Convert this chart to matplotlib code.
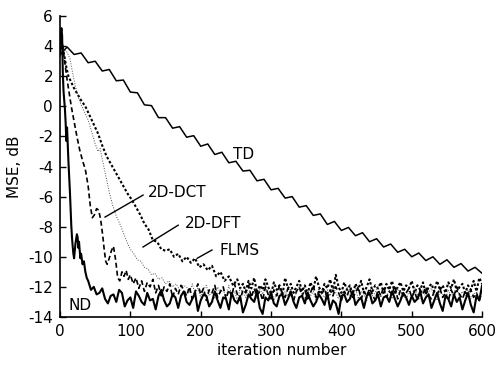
import matplotlib
matplotlib.use('Agg')
import matplotlib.pyplot as plt
import numpy as np

plt.rcParams['axes.unicode_minus'] = False
plt.rcParams['font.family'] = 'DejaVu Sans'

# TD: slow curve with ripples, sampled every 10 iterations
td_x = np.arange(0, 601, 10)
td_y = [3.4, 3.95, 3.45, 3.55, 2.9, 3.0, 2.35, 2.45, 1.7, 1.75,
        0.95, 0.9, 0.1, 0.05, -0.75, -0.75, -1.45, -1.35, -2.05, -1.95,
        -2.65, -2.5, -3.2, -3.05, -3.75, -3.65, -4.3, -4.25, -4.95, -4.85,
        -5.55, -5.45, -6.1, -6.0, -6.7, -6.6, -7.25, -7.15, -7.85, -7.65,
        -8.25, -8.05, -8.6, -8.4, -9.0, -8.8, -9.35, -9.15, -9.7, -9.5,
        -10.0, -9.75, -10.25, -10.0, -10.5, -10.2, -10.7, -10.45, -10.95, -10.7,
        -11.1]

# ND: fastest curve
nd_x_head = [0, 1, 2, 3, 4, 5, 6, 7, 8, 9, 10, 11, 12, 13, 14, 15, 16, 17, 18, 19,
             20, 21, 22, 23, 24, 25, 26, 27, 28, 29, 30, 32, 34, 36, 38]
nd_y_head = [4.0, 4.8, 5.2, 4.7, 2.2, 1.0, 0.4, -0.2, -1.1, -2.3, -1.4, -2.6, -3.7, -4.6,
             -5.6, -6.8, -7.9, -8.7, -9.3, -9.8, -10.1, -9.6, -9.1, -8.8, -8.5, -8.7,
             -9.4, -9.0, -9.6, -10.1, -9.8, -10.5, -10.3, -11.0, -11.4]
nd_x_tail = np.arange(40, 601, 4)
nd_y_tail = [-11.6, -12.2, -12.0, -12.5, -12.4, -12.1, -12.8, -13.1, -12.6, -12.5,
             -13.0, -12.2, -12.4, -13.3, -12.9, -12.7, -13.4, -12.3, -12.6, -13.0,
             -13.2, -12.4, -12.9, -12.8, -13.5, -12.6, -12.2, -12.9, -13.3, -13.1,
             -12.5, -12.7, -13.4, -12.6, -12.3, -13.0, -13.2, -12.8, -12.4, -13.6,
             -12.9, -12.5, -12.6, -13.3, -13.0, -12.3, -12.9, -13.4, -12.7, -12.8,
             -13.5, -12.4, -12.9, -13.1, -12.6, -13.7, -13.2, -12.5, -12.8, -13.0,
             -12.3, -13.4, -13.8, -12.7, -12.9, -12.4, -13.1, -13.3, -12.6, -12.5,
             -13.2, -12.8, -12.3, -13.0, -13.4, -12.7, -12.6, -13.1, -12.4, -12.9,
             -13.3, -13.0, -12.5, -12.8, -13.2, -12.4, -13.5, -12.9, -13.1, -13.8,
             -12.6, -12.5, -13.0, -12.8, -12.3, -13.2, -12.9, -12.7, -13.4, -12.6,
             -12.4, -13.1, -12.9, -12.5, -13.3, -12.7, -12.6, -13.0, -12.3, -12.8,
             -13.3, -12.9, -12.4, -12.7, -13.2, -12.6, -13.0, -12.8, -12.3, -13.1,
             -12.7, -12.5, -13.4, -12.9, -12.4, -13.1, -13.6, -12.6, -12.8, -13.3,
             -12.5, -13.0, -12.7, -13.5, -12.9, -12.4, -13.2, -13.7, -12.6, -12.9,
             -11.9]

# 2D-DCT: dashed
dct_x_head = [0, 2, 4, 6, 8, 10, 13, 16, 20, 24, 28, 32, 36, 40, 43, 46, 49, 52, 55,
              58, 61, 63, 65, 67, 70, 73, 76, 79, 82, 85, 88, 91, 94, 97]
dct_y_head = [3.6, 4.4, 4.0, 3.2, 2.5, 1.8, 0.9, 0.0, -1.0, -2.0, -2.9, -3.6, -4.2,
              -5.3, -6.6, -7.4, -7.2, -6.8, -6.9, -7.6, -8.7, -9.6, -10.3, -10.5,
              -10.1, -9.6, -9.3, -10.2, -11.4, -11.6, -11.0, -11.3, -10.9, -11.5]
dct_x_tail = np.arange(100, 601, 4)
dct_y_tail = [-11.2, -11.8, -11.4, -12.1, -11.6, -12.3, -11.7, -12.0, -11.5, -12.4,
              -11.9, -12.6, -12.0, -12.3, -11.8, -12.7, -12.1, -12.5, -11.9, -12.2,
              -12.6, -12.0, -12.8, -12.3, -11.8, -12.5, -12.1, -12.9, -12.2, -12.4,
              -11.9, -12.7, -12.3, -12.0, -12.8, -12.2, -12.6, -11.8, -12.5, -12.9,
              -12.2, -12.4, -11.9, -12.7, -12.1, -12.6, -12.3, -12.9, -12.0, -12.5,
              -12.8, -12.2, -12.6, -11.9, -12.4, -12.7, -12.1, -12.5, -12.9, -12.3,
              -12.0, -12.6, -12.2, -12.8, -12.4, -11.9, -12.7, -12.3, -12.5, -12.1,
              -12.8, -12.2, -12.6, -12.0, -12.4, -12.9, -12.3, -12.6, -12.1, -12.7,
              -12.4, -12.0, -12.8, -12.3, -12.6, -12.1, -12.5, -12.9, -12.2, -12.6,
              -12.0, -12.7, -12.3, -12.5, -11.9, -12.8, -12.2, -12.6, -12.4, -12.1,
              -12.7, -12.3, -12.9, -12.2, -12.5, -12.0, -12.6, -12.8, -12.3, -12.5,
              -12.1, -12.7, -12.4, -12.9, -12.2, -12.6, -12.0, -12.5, -12.8, -12.3,
              -12.6, -12.2, -12.7, -12.4, -12.9, -12.3]

# 2D-DFT: light dotted
dft_x_head = [0, 3, 6, 10, 14, 18, 22, 26, 30, 35, 40, 45, 50, 54, 57, 60, 65, 70, 75,
              80, 85, 90, 95, 100, 105, 110, 115, 120, 125, 130, 135, 140, 145, 150,
              155, 160, 165, 170, 175]
dft_y_head = [3.3, 3.9, 3.8, 3.6, 3.2, 2.2, 1.3, 0.6, 0.1, -0.4, -0.9, -1.7, -2.5, -3.0,
              -2.8, -3.5, -4.6, -5.7, -6.6, -7.3, -7.8, -8.4, -9.0, -9.5, -9.8, -10.2,
              -10.3, -10.7, -10.8, -11.2, -11.1, -11.5, -11.4, -11.8, -11.6, -12.0,
              -11.8, -12.2, -11.9]
dft_x_tail = np.arange(180, 601, 4)
dft_y_tail = [-12.0, -12.4, -11.8, -12.5, -12.1, -12.7, -12.2, -11.9, -12.6, -12.3,
              -12.8, -12.0, -12.4, -12.2, -12.7, -11.9, -12.5, -12.3, -12.9, -12.1,
              -12.4, -12.7, -12.0, -12.6, -12.3, -12.8, -12.1, -12.5, -11.8, -12.6,
              -12.2, -12.9, -12.4, -12.0, -12.7, -12.3, -12.6, -12.1, -12.8, -12.4,
              -12.0, -12.5, -12.8, -12.2, -12.6, -12.3, -12.9, -12.1, -12.5, -12.7,
              -12.2, -12.6, -11.9, -12.4, -12.8, -12.3, -12.6, -12.0, -12.7, -12.4,
              -12.1, -12.8, -12.3, -12.5, -12.9, -12.2, -12.6, -12.4, -12.0, -12.7,
              -12.3, -12.6, -12.2, -12.8, -12.4, -12.1, -12.7, -12.5, -12.9, -12.3,
              -12.6, -12.0, -12.5, -12.8, -12.2, -12.7, -12.4, -12.1, -12.6, -12.9,
              -12.3, -12.5, -12.8, -12.2, -12.6, -12.4, -12.0, -12.7, -12.3, -12.6,
              -12.2, -12.8, -12.4, -12.6, -12.9, -12.3]

# FLMS: heavy dotted, slowest of the three
flms_x_head = [0, 3, 6, 9, 12, 16, 20, 25, 30, 36, 42, 48, 54, 60, 66, 72, 78, 84, 90,
               96, 102, 108, 114, 120, 126, 132, 138, 144, 150, 156, 162, 168, 174,
               180, 186, 192, 198, 204, 210, 216, 222, 228, 234, 240, 246, 252, 256]
flms_y_head = [3.5, 4.0, 3.4, 2.6, 2.0, 1.6, 1.2, 0.8, 0.4, 0.0, -0.6, -1.2, -1.8, -2.6,
               -3.3, -3.8, -4.3, -4.8, -5.3, -5.8, -6.2, -6.7, -7.2, -7.8, -8.2, -8.9,
               -9.0, -9.5, -9.6, -9.5, -10.0, -9.8, -10.3, -10.0, -10.4, -10.1, -10.7,
               -10.5, -10.9, -10.6, -11.3, -11.0, -11.6, -11.3, -11.9, -11.5, -12.1]
flms_x_tail = np.arange(260, 601, 4)
flms_y_tail = [-11.8, -12.3, -11.6, -12.1, -11.4, -12.4, -11.9, -12.2, -11.5, -12.0,
               -12.5, -11.7, -12.2, -11.9, -12.6, -11.4, -12.1, -11.8, -12.4, -12.0,
               -11.6, -12.3, -11.9, -12.5, -11.7, -12.2, -11.3, -12.0, -12.4, -11.8,
               -12.1, -11.5, -12.3, -11.2, -12.0, -12.4, -11.7, -12.2, -11.9, -12.5,
               -11.8, -12.2, -11.6, -12.4, -12.0, -11.5, -12.3, -11.9, -12.1, -11.7,
               -12.4, -11.8, -12.2, -11.6, -12.5, -12.0, -11.7, -12.3, -11.9, -12.1,
               -11.6, -12.4, -11.9, -12.2, -11.7, -12.5, -12.0, -11.8, -12.3, -11.6,
               -12.2, -11.9, -12.4, -11.7, -12.1, -11.5, -12.3, -12.0, -11.8, -12.4,
               -11.9, -12.2, -11.6, -12.3, -11.4, -11.8]

x_ticks = [0, 100, 200, 300, 400, 500, 600]
y_ticks = [-14, -12, -10, -8, -6, -4, -2, 0, 2, 4, 6]

fig = plt.figure(figsize=(4.96, 3.66), dpi=100)
ax = fig.add_axes([0.121, 0.134, 0.851, 0.822])

ax.plot(td_x, td_y, color='black', lw=1.1)
ax.plot(np.concatenate([flms_x_head, flms_x_tail]), flms_y_head + flms_y_tail,
        color='black', lw=1.5, linestyle=(0, (1.2, 1.0)))
ax.plot(np.concatenate([dft_x_head, dft_x_tail]), dft_y_head + dft_y_tail,
        color='0.3', lw=0.7, linestyle=(0, (1.0, 1.6)))
ax.plot(np.concatenate([dct_x_head, dct_x_tail]), dct_y_head + dct_y_tail,
        color='black', lw=1.2, linestyle=(0, (3.0, 1.8)))
ax.plot(np.concatenate([nd_x_head, nd_x_tail]), nd_y_head + nd_y_tail,
        color='black', lw=1.5)

# curve labels and pointer lines
ax.text(246, -3.2, 'TD', fontsize=11, ha='left', va='center')
ax.text(125, -5.7, '2D-DCT', fontsize=11, ha='left', va='center')
ax.text(178, -7.8, '2D-DFT', fontsize=11, ha='left', va='center')
ax.text(227, -9.6, 'FLMS', fontsize=11, ha='left', va='center')
ax.text(12, -13.25, 'ND', fontsize=11, ha='left', va='center')
ax.plot([64, 118], [-7.36, -5.9], color='black', lw=1.0)
ax.plot([118, 168], [-9.35, -7.9], color='black', lw=1.0)
ax.plot([195, 216], [-10.1, -9.55], color='black', lw=1.0)

ax.set_xlim(0, 600)
ax.set_ylim(-14, 6)
ax.set_xticks(x_ticks)
ax.set_yticks(y_ticks)
ax.tick_params(direction='in', length=4, width=1, labelsize=11, pad=5)
ax.spines['top'].set_visible(False)
ax.spines['right'].set_visible(False)
ax.spines['left'].set_linewidth(1.2)
ax.spines['bottom'].set_linewidth(1.2)

ax.set_xlabel('iteration number', fontsize=11)
ax.xaxis.set_label_coords(0.526, -0.085)
ax.xaxis.label.set_va('top')
ax.set_ylabel('MSE, dB', fontsize=11)
ax.yaxis.set_label_coords(-0.09, 0.5)

plt.savefig('out.png', dpi=100)
plt.close()
